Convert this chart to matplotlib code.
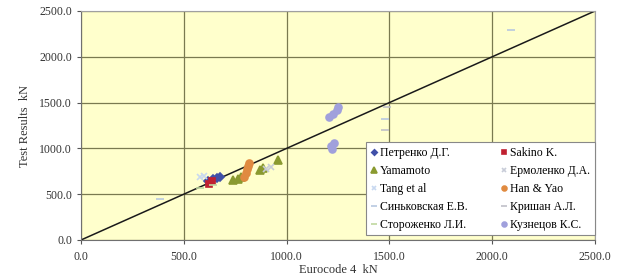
import numpy as np
import matplotlib.pyplot as plt
from matplotlib.lines import Line2D

plt.rcParams['font.family'] = ['Liberation Serif', 'DejaVu Serif']

# data (Eurocode 4 kN, Test Results kN)
petrenko_x = [615, 640, 660, 675]
petrenko_y = [640, 660, 680, 690]
sakino_x = [620, 635]
sakino_y = [615, 640]
yamamoto_x = [740, 765, 780, 870, 885, 960]
yamamoto_y = [650, 670, 690, 760, 790, 870]
ermolenko_x = [900, 925]
ermolenko_y = [770, 800]
tang_x = [580, 600]
tang_y = [690, 700]
han_x = [790, 800, 805, 810, 815]
han_y = [690, 730, 770, 810, 840]
sinkovskaya_x = [385, 1480, 2090]
sinkovskaya_y = [450, 1320, 2290]
krishan_x = [1480, 1490]
krishan_y = [1200, 1450]
storozhenko_x = [580, 640]
storozhenko_y = [570, 600]
kuznetsov_x = [1205, 1225, 1245, 1250, 1220, 1230, 1215]
kuznetsov_y = [1340, 1380, 1420, 1450, 990, 1060, 1030]

ticks = [0, 500, 1000, 1500, 2000, 2500]

fig = plt.figure(figsize=(6.24, 2.79), dpi=100)
ax = fig.add_axes([0.13, 0.14, 0.8235, 0.8206])
ax.set_facecolor('#ffffcc')

ax.plot([0, 2500], [0, 2500], color='#1a1a1a', lw=1.1, zorder=2)

series = [
    ('Петренко Д.Г.', petrenko_x, petrenko_y, dict(marker='D', color='#4050a8', ms=4)),
    ('Sakino K.', sakino_x, sakino_y, dict(marker='s', color='#c02030', ms=5)),
    ('Yamamoto', yamamoto_x, yamamoto_y, dict(marker='^', color='#8a9a30', ms=6)),
    ('Ермоленко Д.А.', ermolenko_x, ermolenko_y, dict(marker='x', color='#c8ccd8', ms=5)),
    ('Tang et al', tang_x, tang_y, dict(marker='x', color='#c8d8f0', ms=4)),
    ('Han & Yao', han_x, han_y, dict(marker='o', color='#e08a40', ms=5)),
    ('Синьковская Е.В.', sinkovskaya_x, sinkovskaya_y, dict(marker='_', color='#b8c8e0', ms=6)),
    ('Кришан А.Л.', krishan_x, krishan_y, dict(marker='_', color='#c0c0c8', ms=6)),
    ('Стороженко Л.И.', storozhenko_x, storozhenko_y, dict(marker='_', color='#c0d8a0', ms=6)),
    ('Кузнецов К.С.', kuznetsov_x, kuznetsov_y, dict(marker='o', color='#a0a0dc', ms=5)),
]

handles = []
for name, xs, ys, st in series:
    h, = ax.plot(xs, ys, ls='none', marker=st['marker'], color=st['color'],
                 ms=st['ms'], mew=1.2, label=name, zorder=3)
    handles.append(h)

ax.set_xlim(0, 2500)
ax.set_ylim(0, 2500)
ax.set_xticks(ticks)
ax.set_yticks(ticks)
ax.set_xticklabels(['%.1f' % t for t in ticks])
ax.set_yticklabels(['%.1f' % t for t in ticks])
ax.tick_params(labelsize=8.5, colors='#555555', length=3, direction='out')
ax.tick_params(axis='x', pad=5)
for lab in ax.get_xticklabels() + ax.get_yticklabels():
    lab.set_color('#333333')
ax.grid(True, color='#7a7a50', lw=0.9)
ax.set_axisbelow(True)
for s in ax.spines.values():
    s.set_color('#a0a0a0')
    s.set_linewidth(0.8)
ax.spines['left'].set_color('#707070')
ax.spines['bottom'].set_color('#707070')

ax.set_xlabel('Eurocode 4  kN', fontsize=9, labelpad=1, color='#333333')
ax.set_ylabel('Test Results  kN', fontsize=9, labelpad=6, color='#333333')

# legend fills row by row in the reference
order = [0, 2, 4, 6, 8, 1, 3, 5, 7, 9]
leg = ax.legend([handles[i] for i in order], [series[i][0] for i in order],
                ncol=2, loc='lower right', bbox_to_anchor=(1.0, 0.02),
                borderaxespad=0, fontsize=8.5, frameon=True, fancybox=False,
                handlelength=0.6, handletextpad=0.2, columnspacing=2.8,
                labelspacing=0.5, borderpad=0.4, markerscale=0.7)
leg.get_frame().set_edgecolor('#888888')
leg.get_frame().set_facecolor('white')
leg.get_frame().set_alpha(1)
leg.get_frame().set_linewidth(0.8)

fig.savefig('out.png', dpi=100, facecolor='white')
